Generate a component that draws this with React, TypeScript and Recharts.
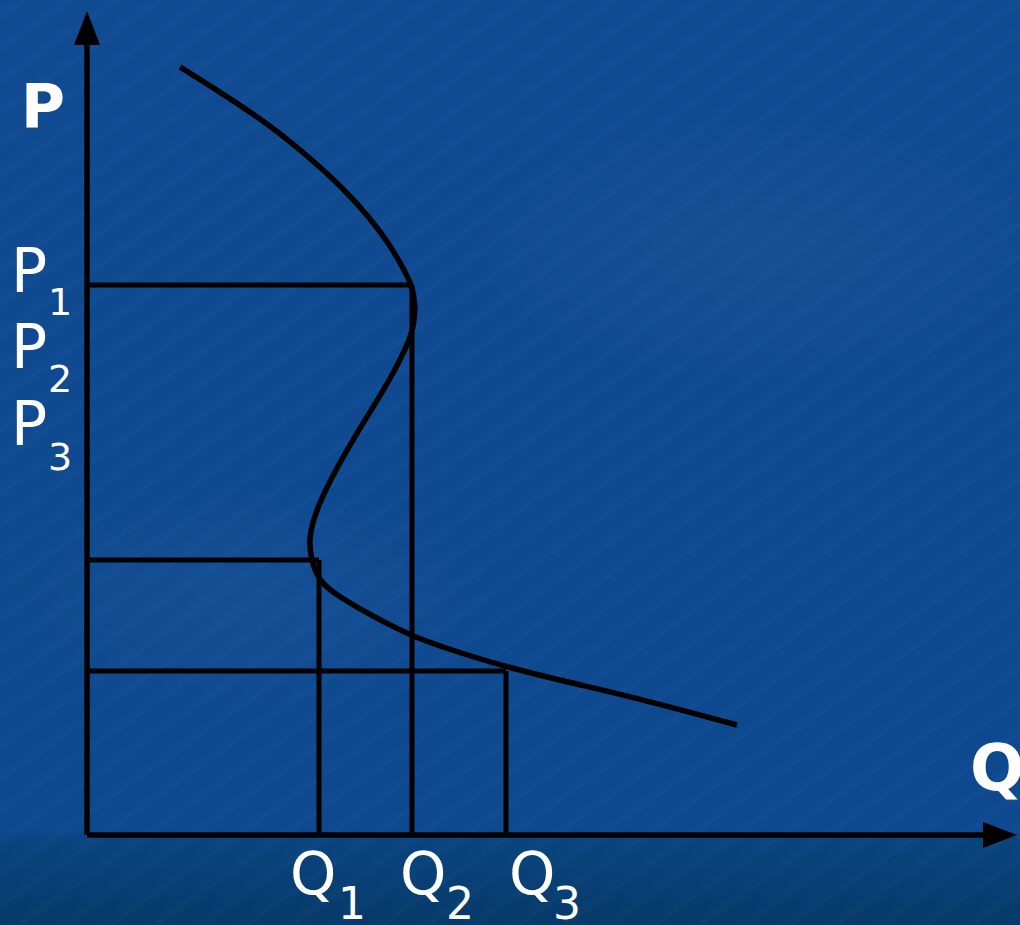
import React from 'react'
import { ComposedChart, Line, XAxis, YAxis, ReferenceLine, ReferenceDot } from 'recharts'

// backward-bending supply curve (q = quantity, p = price)
const curveQ = [9.3, 13.3, 18.3, 22.3, 25.6, 28.3, 30.3, 31.6, 32.5, 32.85, 32.7, 32.3, 30.3, 27.6, 25.0, 23.0, 22.1, 22.5, 23.2, 24.6, 28.0, 32.5, 38.0, 42.0, 48.0, 54.6, 65.0]
const curveP = [76.8, 74.3, 71.0, 67.7, 64.7, 61.7, 59.0, 56.7, 55.0, 53.0, 51.2, 49.5, 45.5, 41.2, 36.8, 32.8, 29.6, 27.2, 25.5, 24.2, 22.2, 19.8, 18.0, 16.8, 15.3, 13.8, 11.0]

// the three price/quantity boxes
const boxQ = [32.5, 23.2, 41.9]
const boxP = [55.0, 27.5, 16.4]

const qMax = 92.8
const pMax = 82

const pLabels = ['1', '2', '3']
const qLabels = ['1', '2', '3']

const curve = curveQ.map((q, i) => ({ q, p: curveP[i] }))

const W = 1020
const H = 925
const font = '"DejaVu Sans", Verdana, sans-serif'

const UpArrow = (props: any) => {
  const { cx, cy } = props
  return <path d={`M${cx} ${cy - 4} L${cx - 13} ${cy + 30} L${cx + 13} ${cy + 30} Z`} fill="#000" />
}

const RightArrow = (props: any) => {
  const { cx, cy } = props
  return <path d={`M${cx + 2} ${cy} L${cx - 32} ${cy - 13} L${cx - 32} ${cy + 13} Z`} fill="#000" />
}

export default function App() {
  return (
    <div
      style={{
        position: 'absolute',
        left: 0,
        top: 0,
        width: W,
        height: H,
        overflow: 'hidden',
        background: [
          'radial-gradient(ellipse 260px 120px at 250px 600px, rgba(255,255,255,0.03), rgba(255,255,255,0))',
          'radial-gradient(ellipse 300px 140px at 760px 250px, rgba(255,255,255,0.03), rgba(255,255,255,0))',
          'repeating-linear-gradient(-35deg, rgba(255,255,255,0.018) 0px, rgba(255,255,255,0) 9px, rgba(0,0,0,0.02) 17px, rgba(255,255,255,0) 26px)',
          'linear-gradient(to bottom, #104b93 0px, #0e4990 830px, #0a4580 840px, #063a6a 925px)',
        ].join(', '),
      }}
    >
      <ComposedChart width={W} height={H} margin={{ top: 15, right: 5, bottom: 90, left: 87 }}>
        <XAxis type="number" dataKey="q" domain={[0, qMax]} hide allowDataOverflow />
        <YAxis type="number" dataKey="p" domain={[0, pMax]} hide allowDataOverflow />

        {boxQ.map((q, i) => (
          <ReferenceLine
            key={'h' + i}
            segment={[{ x: 0, y: boxP[i] }, { x: q, y: boxP[i] }]}
            stroke="#000"
            strokeWidth={5}
          />
        ))}
        {boxQ.map((q, i) => (
          <ReferenceLine
            key={'v' + i}
            segment={[{ x: q, y: 0 }, { x: q, y: boxP[i] }]}
            stroke="#000"
            strokeWidth={5}
          />
        ))}

        <Line
          data={curve}
          dataKey="p"
          type="basis"
          stroke="#000"
          strokeWidth={5.5}
          strokeLinecap="butt"
          dot={false}
          activeDot={false}
          isAnimationActive={false}
        />

        <ReferenceLine segment={[{ x: 0, y: 0 }, { x: 0, y: pMax - 2 }]} stroke="#000" strokeWidth={5.5} />
        <ReferenceLine segment={[{ x: 0, y: 0 }, { x: qMax - 2, y: 0 }]} stroke="#000" strokeWidth={5.5} />
        <ReferenceDot x={0} y={pMax} ifOverflow="visible" shape={UpArrow} />
        <ReferenceDot x={qMax} y={0} ifOverflow="visible" shape={RightArrow} />
      </ComposedChart>

      <svg width={W} height={H} style={{ position: 'absolute', left: 0, top: 0, pointerEvents: 'none' }}>
        <g fill="#fff" fontFamily={font}>
          <text x={21} y={127} fontSize={60} fontWeight="bold">P</text>
          <text x={970} y={790} fontSize={64} fontWeight="bold">Q</text>

          {pLabels.map((s, i) => (
            <g key={'p' + s}>
              <text x={11} y={[292, 368, 445][i]} fontSize={60}>P</text>
              <text x={48} y={[315, 392, 470][i]} fontSize={38}>{s}</text>
            </g>
          ))}

          {qLabels.map((s, i) => (
            <g key={'q' + s}>
              <text x={[290, 400, 509][i]} y={894} fontSize={59}>Q</text>
              <text x={[338, 446, 553][i]} y={919} fontSize={44}>{s}</text>
            </g>
          ))}
        </g>
      </svg>
    </div>
  )
}
